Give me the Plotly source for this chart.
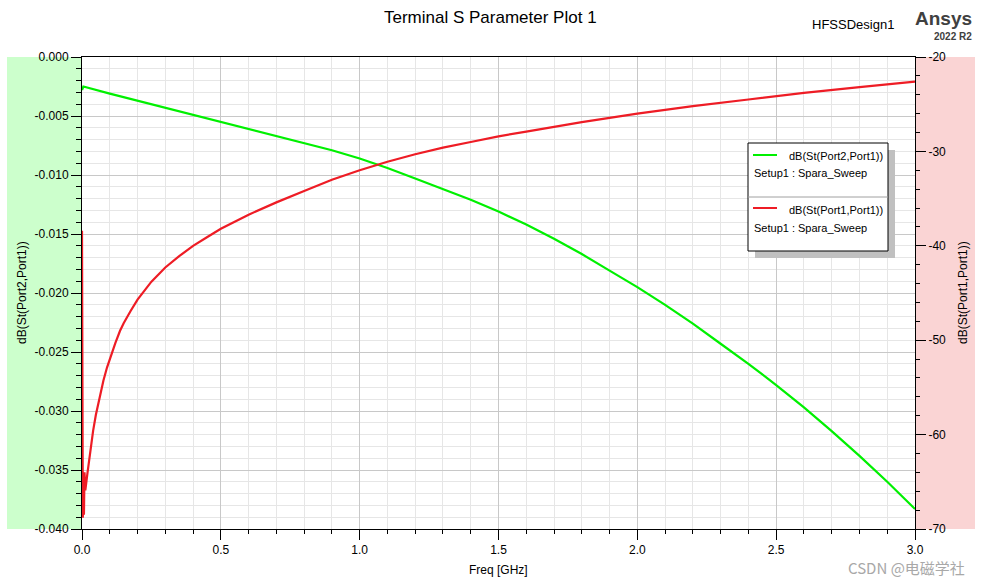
import plotly.graph_objects as go

# ---------------- data ----------------
freq_s21 = [0, 0.005, 0.1, 0.2, 0.3, 0.4, 0.5, 0.6, 0.7, 0.8, 0.9, 1.0, 1.1, 1.2, 1.3, 1.4, 1.5,
            1.6, 1.7, 1.8, 1.9, 2.0, 2.1, 2.2, 2.3, 2.4, 2.5, 2.6, 2.7, 2.8, 2.9, 3.0]
s21_db = [-0.0028, -0.0025, -0.0031, -0.0037, -0.0043, -0.0049, -0.0055, -0.0061, -0.0067,
          -0.0073, -0.0079, -0.0086, -0.0094, -0.0103, -0.0112, -0.0121, -0.0131, -0.0142,
          -0.0154, -0.0167, -0.0181, -0.0195, -0.0210, -0.0226, -0.0243, -0.0260, -0.0278,
          -0.0297, -0.0317, -0.0338, -0.0360, -0.0383]

freq_s11 = [0, 0.001, 0.002, 0.003, 0.005, 0.007, 0.009, 0.012, 0.02, 0.03, 0.04, 0.05, 0.065,
            0.077, 0.09, 0.1, 0.12, 0.137, 0.15, 0.175, 0.2, 0.25, 0.3, 0.35, 0.4, 0.45, 0.5,
            0.6, 0.7, 0.8, 0.9, 1.0, 1.1, 1.2, 1.3, 1.4, 1.5, 1.6, 1.8, 2.0, 2.2, 2.4, 2.6,
            2.8, 3.0]
s11_db = [-38.4, -67.5, -52.8, -68.8, -64.5, -68.5, -64.0, -65.9, -64.0, -61.6, -59.6, -57.9,
          -55.8, -54.3, -52.9, -52.0, -50.3, -49.0, -48.2, -46.9, -45.7, -43.8, -42.3, -41.1,
          -40.0, -39.1, -38.2, -36.7, -35.4, -34.2, -33.0, -32.0, -31.1, -30.3, -29.6, -29.0,
          -28.4, -27.9, -26.9, -26.0, -25.2, -24.5, -23.8, -23.2, -22.6]

x_ticks = [0.0, 0.5, 1.0, 1.5, 2.0, 2.5, 3.0]
x_ticklabels = ["0.0", "0.5", "1.0", "1.5", "2.0", "2.5", "3.0"]
y1_ticks = [0.0, -0.005, -0.010, -0.015, -0.020, -0.025, -0.030, -0.035, -0.040]
y1_ticklabels = ["0.000", "-0.005", "-0.010", "-0.015", "-0.020", "-0.025", "-0.030", "-0.035", "-0.040"]
y2_ticks = [-20, -30, -40, -50, -60, -70]
y2_ticklabels = ["-20", "-30", "-40", "-50", "-60", "-70"]

series_names = ["dB(St(Port2,Port1))", "dB(St(Port1,Port1))"]
setup_name = "Setup1 : Spara_Sweep"

# ---------------- layout geometry ----------------
W, H = 982, 583
L, R, T, B = 82, 915, 57, 529
PW, PH = R - L, B - T

def px(x):
    return (x - L) / PW

def py(y):
    return (B - y) / PH

FONT = "Liberation Sans, Arial, sans-serif"
GREEN = "#00f000"
RED = "#ee1c25"

fig = go.Figure()
fig.add_trace(go.Scatter(x=freq_s21, y=s21_db, mode="lines", line=dict(color=GREEN, width=2.2),
                         name=series_names[0], yaxis="y", showlegend=False))
fig.add_trace(go.Scatter(x=freq_s11, y=s11_db, mode="lines", line=dict(color=RED, width=2.2),
                         name=series_names[1], yaxis="y2", showlegend=False))

shapes = []
# side colour panels
shapes.append(dict(type="rect", xref="paper", yref="paper", x0=px(7), x1=px(L), y0=0, y1=1,
                   fillcolor="#ccffcc", line=dict(width=0), layer="below"))
shapes.append(dict(type="rect", xref="paper", yref="paper", x0=px(R), x1=px(975), y0=0, y1=1,
                   fillcolor="#fad4d4", line=dict(width=0), layer="below"))
# legend shadow + box
shapes.append(dict(type="rect", xref="paper", yref="paper", x0=px(755), x1=px(895), y0=py(258), y1=py(150),
                   fillcolor="#c0c0c0", line=dict(width=0)))
shapes.append(dict(type="rect", xref="paper", yref="paper", x0=px(748), x1=px(888), y0=py(251), y1=py(143),
                   fillcolor="white", line=dict(color="black", width=1)))
shapes.append(dict(type="line", xref="paper", yref="paper", x0=px(748), x1=px(888), y0=py(197), y1=py(197),
                   line=dict(color="#a0a0a0", width=1)))
shapes.append(dict(type="line", xref="paper", yref="paper", x0=px(753), x1=px(777), y0=py(155), y1=py(155),
                   line=dict(color=GREEN, width=2)))
shapes.append(dict(type="line", xref="paper", yref="paper", x0=px(753), x1=px(777), y0=py(208), y1=py(208),
                   line=dict(color=RED, width=2)))

ann = []
def text(x, y, s, size=11, xanchor="left", color="black", bold=False, angle=0, family=FONT):
    ann.append(dict(xref="paper", yref="paper", x=px(x), y=py(y), text=("<b>%s</b>" % s) if bold else s,
                    showarrow=False, xanchor=xanchor, yanchor="middle", textangle=angle,
                    font=dict(family=family, size=size, color=color)))

text(885, 156, series_names[0], xanchor="right")
text(752, 173, setup_name)
text(885, 210, series_names[1], xanchor="right")
text(752, 228, setup_name)
text(490, 17, "Terminal S Parameter Plot 1", size=17, xanchor="center")
text(896, 25, "HFSSDesign1", size=13, xanchor="right")
text(974, 18, "Ansys", size=19, xanchor="right", color="#404040", bold=True)
text(974, 37, "2022 R2", size=10, xanchor="right", color="#404040", bold=True)
text(498, 570, "Freq [GHz]", size=12, xanchor="center")
text(22, 293, series_names[0], size=12, xanchor="center", angle=-90)
text(963, 293, series_names[1], size=12, xanchor="center", angle=-90)
text(967, 567, "CSDN @电磁学社", size=15, xanchor="right", color="#a8a8a8",
     family="Noto Sans CJK SC, Liberation Sans, sans-serif")

tickfont = dict(family=FONT, size=12, color="black")
fig.update_layout(
    width=W, height=H,
    margin=dict(l=L, r=W - R, t=T, b=H - B, pad=0),
    paper_bgcolor="white", plot_bgcolor="white",
    shapes=shapes, annotations=ann, showlegend=False,
    xaxis=dict(range=[0, 3], tickvals=x_ticks, ticktext=x_ticklabels, tickfont=tickfont,
               showline=True, linecolor="black", linewidth=1, mirror=True, zeroline=False,
               ticks="outside", ticklen=10, tickcolor="black",
               showgrid=True, gridcolor="#c8c8c8", gridwidth=1,
               minor=dict(dtick=0.1, tick0=0, showgrid=True, gridcolor="#e6e6e6",
                          ticks="outside", ticklen=4, tickcolor="black")),
    yaxis=dict(range=[-0.04, 0], tickvals=y1_ticks, ticktext=y1_ticklabels, tickfont=tickfont,
               showline=True, linecolor="black", linewidth=1, zeroline=False,
               ticks="outside", ticklen=10, tickcolor="black",
               showgrid=True, gridcolor="#c8c8c8", gridwidth=1,
               minor=dict(dtick=0.001, tick0=0, showgrid=True, gridcolor="#e6e6e6",
                          ticks="outside", ticklen=5, tickcolor="black")),
    yaxis2=dict(range=[-70, -20], overlaying="y", side="right", tickvals=y2_ticks,
                ticktext=y2_ticklabels, tickfont=tickfont,
                showline=True, linecolor="black", linewidth=1, zeroline=False, showgrid=False,
                ticks="outside", ticklen=10, tickcolor="black",
                minor=dict(dtick=2, tick0=-70, showgrid=False, ticks="outside", ticklen=4,
                           tickcolor="black")),
)

fig.write_html("out.html", config={"displayModeBar": False})
